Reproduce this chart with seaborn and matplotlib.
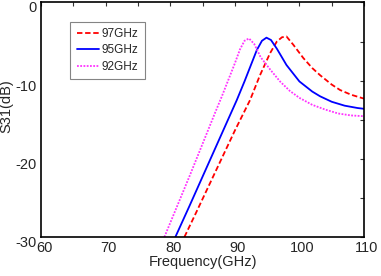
import numpy as np
import pandas as pd
import seaborn as sns
import matplotlib.pyplot as plt
import matplotlib.transforms as mtransforms
from matplotlib.ticker import MultipleLocator

# S31 curves (frequency in GHz, S31 in dB)
freq_97 = [82.2, 84, 86, 88, 90, 92.35, 93.9, 95.45, 96.5, 97.3, 98.0, 99.05,
           100.6, 102, 103.2, 105, 106.3, 108, 110]
s31_97 = [-30, -26.9, -23.4, -19.9, -16.4, -12.5, -9.3, -6.5, -5.0, -4.45, -4.35, -5.4,
          -7.1, -8.4, -9.3, -10.5, -11.2, -11.8, -12.3]

freq_95 = [80.8, 83, 85, 87, 89, 90.3, 91.5, 92.4, 93.4, 94.2, 94.9, 95.6,
           96.5, 98, 100, 102, 103.2, 105, 107, 109, 110]
s31_95 = [-30, -26.0, -22.3, -18.6, -14.9, -12.5, -10.1, -8.2, -6.1, -4.9, -4.5, -4.8,
          -5.9, -8.0, -10.1, -11.4, -12.0, -12.7, -13.2, -13.5, -13.6]

freq_92 = [79.1, 81, 83, 85, 87, 88, 89, 90, 90.8, 91.5, 92.2, 93, 94,
           95.5, 97, 98.5, 100, 102, 104, 106, 108, 110]
s31_92 = [-30, -26.2, -22.2, -18.1, -14.0, -12.0, -9.9, -7.8, -6.0, -4.9, -4.6, -5.3, -7.0,
          -8.6, -10.1, -11.3, -12.2, -13.1, -13.7, -14.2, -14.45, -14.55]

labels = ['97GHz', '95GHz', '92GHz']

df = pd.concat([
    pd.DataFrame({'f': freq_97, 's31': s31_97, 'Design': labels[0]}),
    pd.DataFrame({'f': freq_95, 's31': s31_95, 'Design': labels[1]}),
    pd.DataFrame({'f': freq_92, 's31': s31_92, 'Design': labels[2]}),
], ignore_index=True)

sns.set_style('white')
plt.rcParams['font.family'] = ['Liberation Sans', 'DejaVu Sans']
plt.rcParams['axes.unicode_minus'] = False

fig = plt.figure(figsize=(3.81, 2.76), dpi=100)
ax = fig.add_axes([0.1076, 0.1413, 0.8478, 0.8497])

palette = {'97GHz': '#ff0000', '95GHz': '#0000ff', '92GHz': '#ff33ff'}
dashes = {'97GHz': (3, 1.5), '95GHz': '', '92GHz': (1, 0.8)}
sns.lineplot(data=df, x='f', y='s31', hue='Design', style='Design',
             hue_order=labels, style_order=labels, palette=palette,
             dashes=dashes, sort=False, linewidth=1.3, ax=ax)

ax.set_xlim(60, 110)
ax.set_ylim(-30, 0)
ax.xaxis.set_major_locator(MultipleLocator(10))
ax.xaxis.set_minor_locator(MultipleLocator(5))
ax.yaxis.set_major_locator(MultipleLocator(10))
ax.yaxis.set_minor_locator(MultipleLocator(5))
ax.tick_params(which='both', direction='in', top=True, right=True,
               length=3, width=0.8, color='#333333')
ax.tick_params(which='major', labelsize=10.5, pad=3)
for s in ax.spines.values():
    s.set_color('black')
    s.set_linewidth(1.2)

# tick labels sit a little off their ticks in the original export
fig.canvas.draw()
down = mtransforms.ScaledTranslation(0, -0.045, fig.dpi_scale_trans)
right = mtransforms.ScaledTranslation(0.03, 0, fig.dpi_scale_trans)
for lab in ax.get_yticklabels():
    lab.set_transform(lab.get_transform() + down)
for lab in ax.get_xticklabels():
    lab.set_transform(lab.get_transform() + right)

ax.set_xlabel('Frequency(GHz)', fontsize=10.5, labelpad=0)
ax.set_ylabel('S31(dB)', fontsize=10.5)
ax.yaxis.set_label_coords(-0.086, 0.56)

leg = ax.legend(loc='upper left', bbox_to_anchor=(0.09, 0.918), fontsize=8.5,
                frameon=True, fancybox=False, edgecolor='#666666',
                handlelength=1.9, borderpad=0.55, labelspacing=0.36,
                handletextpad=0.25, borderaxespad=0)
leg.get_frame().set_linewidth(0.8)

fig.savefig('out.png', dpi=100)
